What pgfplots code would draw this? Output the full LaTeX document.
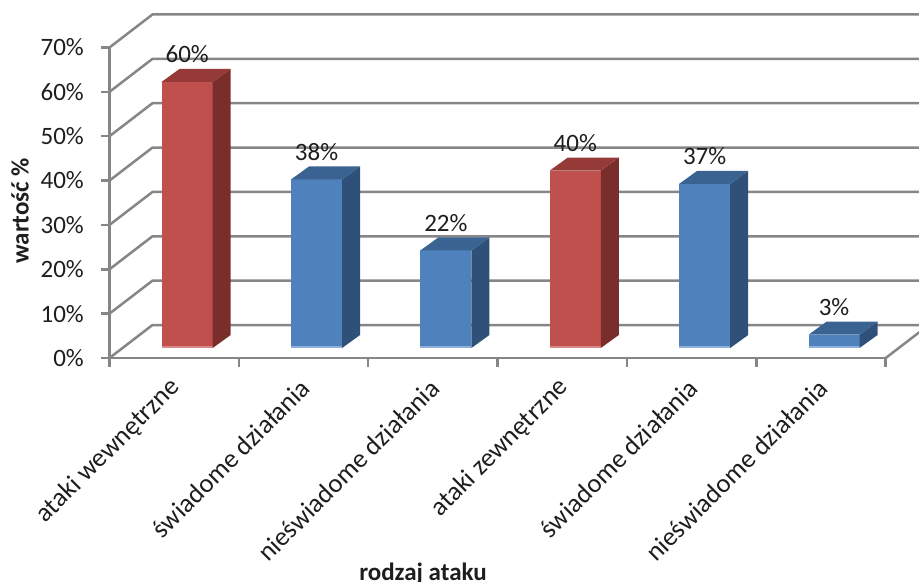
\documentclass[border=0pt]{standalone}
\usepackage{pgfplots}
\pgfplotsset{compat=1.18}
\usepackage{fontspec}
\setmainfont{Carlito}
\definecolor{gridgray}{HTML}{868686}
\definecolor{redfront}{HTML}{C0504D}
\definecolor{redside}{HTML}{7A2E2C}
\definecolor{redtop}{HTML}{953A37}
\definecolor{redlight}{HTML}{D98A88}
\definecolor{bluefront}{HTML}{4F81BD}
\definecolor{blueside}{HTML}{2E5079}
\definecolor{bluetop}{HTML}{3A6391}
\definecolor{bluelight}{HTML}{8FB0DA}
\definecolor{txt}{HTML}{1E1E1E}
\newcommand\chartfont{\fontsize{25bp}{30bp}\selectfont}
\newcommand\tickfont{\fontsize{26.5bp}{31bp}\selectfont}
\newcommand\drawbar[4]{%
  \pgfkeys{/pgf/fpu=false}%
  \pgfmathsetmacro\hh{\rawv*4.436}%
  \pgfsetlinewidth{0pt}%
  \pgfsetfillcolor{#1}%
  \pgfpathrectanglecorners{\pgfpoint{-12.5bp}{10bp}}{\pgfpoint{38.5bp}{10bp-\hh bp}}%
  \pgfusepath{fill}%
  \pgfsetfillcolor{#4}%
  \pgfpathrectanglecorners{\pgfpoint{-12.5bp}{10bp-\hh bp}}{\pgfpoint{38.5bp}{12bp-\hh bp}}%
  \pgfusepath{fill}%
  \pgfsetfillcolor{#2}%
  \pgfpathmoveto{\pgfpoint{38.5bp}{10bp}}%
  \pgfpathlineto{\pgfpoint{56.5bp}{23bp}}%
  \pgfpathlineto{\pgfpoint{56.5bp}{23bp-\hh bp}}%
  \pgfpathlineto{\pgfpoint{38.5bp}{10bp-\hh bp}}%
  \pgfpathclose
  \pgfusepath{fill}%
  \pgfsetfillcolor{#3}%
  \pgfpathmoveto{\pgfpoint{-12.5bp}{10bp}}%
  \pgfpathlineto{\pgfpoint{38.5bp}{10bp}}%
  \pgfpathlineto{\pgfpoint{56.5bp}{23bp}}%
  \pgfpathlineto{\pgfpoint{5.5bp}{23bp}}%
  \pgfpathclose
  \pgfusepath{fill}%
}
\pgfdeclareplotmark{bar3dred}{\drawbar{redfront}{redside}{redtop}{redlight}}
\pgfdeclareplotmark{bar3dblue}{\drawbar{bluefront}{blueside}{bluetop}{bluelight}}
\begin{document}
\begin{tikzpicture}
\begin{axis}[
  x=129.37bp, y=4.436bp,
  xmin=-0.5, xmax=5.5, ymin=0, ymax=70,
  clip=false,
  axis x line*=bottom, axis y line*=left,
  axis line style={gridgray, line width=2.5bp, -},
  every tick/.style={gridgray, line width=2.5bp},
  tick align=outside,
  major tick length=8.5bp,
  ytick={0,10,...,70},
  yticklabel={\pgfmathprintnumber[assume math mode=true]{\tick}\%\hspace*{17bp}},
  yticklabel style={font=\chartfont, text=txt, anchor=east, inner sep=0pt},
  xtick={-0.5,0.5,...,5.5},
  x tick label as interval,
  xticklabels={ataki wewnętrzne, świadome działania, nieświadome działania, ataki zewnętrzne, świadome działania, nieświadome działania},
  xticklabel style={font=\tickfont, text=txt, inner sep=0pt, xshift=2bp, yshift=-17bp, rotate=45, anchor=east},
  ylabel={wartość \%},
  xlabel={rodzaj ataku},
  every axis y label/.style={at={(rel axis cs:0,0.5)}, xshift=-89.5bp, yshift=-8bp, rotate=90, anchor=center, font=\chartfont\bfseries, text=txt},
  every axis x label/.style={at={(rel axis cs:0,0)}, xshift=313.5bp, yshift=-222bp, anchor=base, font=\chartfont\bfseries, text=txt},
]
\pgfplotsinvokeforeach{0,10,20,30,40,50,60,70}{
  \draw[gridgray, line width=2.5bp] (axis cs:-0.5,#1) -- ++(43bp,33bp) -- ++(800bp,0);
}
\draw[gridgray, line width=2.5bp] (axis cs:5.5,0) -- ++(43bp,33bp);
\addplot[only marks, mark=bar3dred,
  visualization depends on={value \thisrow{v}\as\rawv},
  nodes near coords={\pgfmathprintnumber[assume math mode=true]{\pgfplotspointmeta}\%},
  every node near coord/.style={anchor=base, xshift=13bp, yshift=29bp, font=\chartfont, text=txt, inner sep=0pt}]
  table[x=x, y=v] {
x v
0 60
3 40
};
\addplot[only marks, mark=bar3dblue,
  visualization depends on={value \thisrow{v}\as\rawv},
  nodes near coords={\pgfmathprintnumber[assume math mode=true]{\pgfplotspointmeta}\%},
  every node near coord/.style={anchor=base, xshift=13bp, yshift=29bp, font=\chartfont, text=txt, inner sep=0pt}]
  table[x=x, y=v] {
x v
1 38
2 22
4 37
5 3
};
\end{axis}
\pgfresetboundingbox
\path[use as bounding box] ([shift={(-109.5bp,-224bp)}]current axis.south west) rectangle ++(919bp,582bp);
\end{tikzpicture}
\end{document}
